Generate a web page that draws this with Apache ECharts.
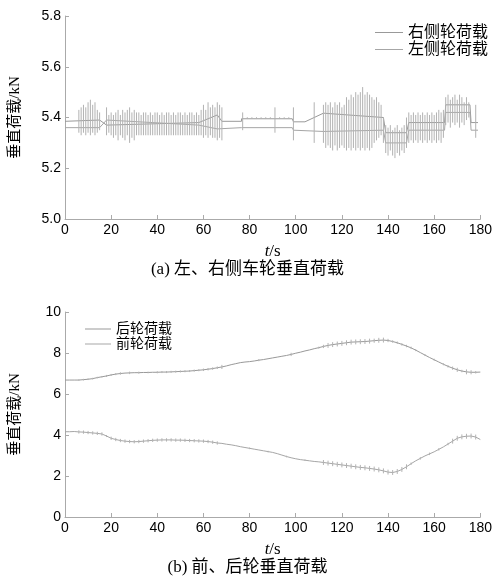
<!DOCTYPE html>
<html><head><meta charset="utf-8">
<script src="https://cdn.jsdelivr.net/npm/echarts@6/dist/echarts.min.js"></script>
<style>html,body{margin:0;padding:0;background:#fff}#c{width:495px;height:578px}</style>
</head><body><div id="c"></div>
<script>
// ---------- data ----------
const topSeriesNames = ['右侧轮荷载', '左侧轮荷载'];
const botSeriesNames = ['后轮荷载', '前轮荷载'];
const xTickLabels = [0, 20, 40, 60, 80, 100, 120, 140, 160, 180];
const topYTicks = [5.0, 5.2, 5.4, 5.6, 5.8];
const botYTicks = [0, 2, 4, 6, 8, 10];

// top chart: base lines [t, kN]
const rightBase = [[0,5.385],[15,5.39],[18,5.37],[58,5.38],[66,5.41],[68,5.385],[76.5,5.385],[76.5,5.395],[98.5,5.395],[99,5.383],[104,5.383],[112,5.417],[138,5.40],[139,5.34],[148,5.34],[149,5.38],[164.5,5.38],[165,5.45],[175.5,5.45],[176,5.38],[179,5.38]];
const leftBase = [[0,5.36],[15,5.36],[18,5.39],[58,5.37],[66,5.355],[76.5,5.36],[98.5,5.36],[99,5.35],[112,5.345],[138,5.35],[139,5.30],[148,5.30],[149,5.35],[164.5,5.35],[165,5.42],[175.5,5.42],[176,5.35],[179,5.35]];

// top chart: oscillation extremes, one entry per second (t = 0..180)
const topBarHi = [
null,null,null,null,null,null,
5.43,5.44,5.45,5.44,5.46,5.47,5.45,5.46,5.43,5.42,
null,null,
5.44,5.41,5.42,5.41,5.42,5.43,5.41,5.43,5.42,5.43,5.44,5.42,5.43,5.42,
5.42,5.41,5.42,5.42,5.41,5.42,5.41,5.42,5.42,5.41,5.42,5.41,5.42,5.42,5.41,5.42,5.41,5.42,5.42,5.41,5.42,5.41,5.42,5.42,5.41,5.42,5.41,
5.43,5.45,5.43,5.46,5.44,5.45,5.44,5.46,5.45,5.44,
null,null,null,null,null,null,null,null,
5.42,
null,5.401,null,5.401,null,5.401,null,5.401,null,5.401,null,5.401,null,
5.44,
null,5.401,null,5.401,null,5.401,null,
5.44,
null,null,null,null,null,null,null,null,
5.46,
null,null,null,
5.45,5.46,5.45,5.46,5.44,5.46,5.45,5.46,5.44,5.45,
5.48,5.47,5.49,5.48,5.50,5.49,5.50,5.52,5.49,5.50,5.49,5.48,5.47,5.48,5.46,5.45,
5.40,5.37,5.36,5.37,5.35,5.36,5.37,5.35,5.36,5.37,5.40,
5.42,5.41,5.42,5.41,5.42,5.41,5.42,5.41,5.42,5.41,5.42,5.41,5.42,5.43,5.42,5.43,
5.48,5.49,5.47,5.48,5.49,5.47,5.49,5.48,5.46,5.48,5.46,
null,null,
5.45,
null,null];
const topBarLo = [
null,null,null,null,null,null,
5.34,5.33,5.34,5.33,5.34,5.33,5.34,5.33,5.34,5.35,
null,null,
5.33,5.34,5.33,5.32,5.33,5.31,5.33,5.32,5.31,5.33,5.30,5.32,5.31,5.33,
5.33,5.33,5.33,5.33,5.33,5.33,5.33,5.33,5.33,5.33,5.33,5.33,5.33,5.33,5.33,5.33,5.33,5.33,5.33,5.33,5.33,5.33,5.33,5.33,5.33,5.33,5.33,
5.33,5.32,5.33,5.32,5.33,5.32,5.32,5.31,5.32,5.31,
null,null,null,null,null,null,null,null,
5.35,
null,5.394,null,5.394,null,5.394,null,5.394,null,5.394,null,5.394,null,
5.34,
null,5.394,null,5.394,null,5.394,null,
5.31,
null,null,null,null,null,null,null,null,
5.30,
null,null,null,
5.30,5.28,5.29,5.28,5.27,5.29,5.27,5.28,5.29,5.28,
5.27,5.28,5.27,5.28,5.27,5.28,5.27,5.28,5.27,5.28,5.27,5.28,5.30,5.31,5.32,5.33,
5.30,5.26,5.25,5.27,5.25,5.24,5.26,5.25,5.27,5.26,5.28,
5.30,5.31,5.30,5.31,5.30,5.31,5.30,5.31,5.30,5.31,5.30,5.31,5.30,5.31,5.30,5.32,
5.37,5.38,5.36,5.38,5.37,5.38,5.36,5.38,5.37,5.39,5.40,
null,null,
5.32,
null,null];

// bottom chart: one value every 2 s (t = 0..180)
const rearLoad = [
6.68,6.68,6.68,6.68,6.70,6.72,6.75,6.80,6.84,6.88,
6.93,6.97,7.00,7.02,7.03,7.04,7.04,7.05,7.05,7.06,
7.06,7.07,7.07,7.08,7.09,7.10,7.11,7.12,7.14,7.16,
7.18,7.21,7.24,7.28,7.32,7.37,7.43,7.48,7.53,7.56,
7.58,7.61,7.65,7.68,7.72,7.76,7.80,7.84,7.88,7.93,
7.99,8.04,8.10,8.15,8.21,8.26,8.32,8.37,8.41,8.44,
8.47,8.50,8.53,8.54,8.55,8.56,8.58,8.60,8.62,8.63,
8.61,8.56,8.50,8.42,8.34,8.25,8.14,8.02,7.90,7.78,
7.67,7.56,7.45,7.35,7.26,7.18,7.12,7.08,7.06,7.06,
7.07];
const frontLoad = [
4.16,4.16,4.17,4.15,4.14,4.12,4.10,4.08,4.05,3.95,
3.84,3.78,3.73,3.70,3.68,3.67,3.68,3.70,3.72,3.74,
3.75,3.76,3.76,3.76,3.75,3.75,3.74,3.73,3.72,3.71,
3.70,3.68,3.65,3.61,3.59,3.55,3.52,3.48,3.43,3.39,
3.35,3.31,3.27,3.23,3.19,3.15,3.09,3.02,2.95,2.89,
2.84,2.80,2.77,2.74,2.71,2.69,2.66,2.63,2.60,2.57,
2.54,2.51,2.48,2.45,2.42,2.40,2.37,2.34,2.30,2.25,
2.19,2.17,2.22,2.32,2.45,2.60,2.74,2.86,2.98,3.08,
3.18,3.30,3.42,3.56,3.70,3.84,3.91,3.94,3.95,3.90,
3.78];
// half-height of the small oscillation ticks on each curve (every 2 s)
const rearTick = [
0,0,0,0.04,0.04,0.04,0.04,0.04,0.04,0.05,
0.05,0.05,0.06,0,0.06,0,0.05,0,0.04,0,
0.05,0.05,0.05,0.05,0.05,0.05,0.05,0.05,0.05,0.05,
0.06,0.06,0.06,0.06,0.1,0,0,0,0,0,0,0,0.05,0,0,0,0,0,0,0.08,0,0,0,0,0,0.05,0.08,
0.12,0.12,0.12,0.12,0.12,0.12,0.12,0.12,0.12,0.12,
0.1,0.12,0.12,0.08,0.06,0.06,0.06,0.06,0.06,0.05,0,0.05,0,0.05,0,0.05,0.06,0.08,0.1,0.06,0.12,0.1,0.06,0];
const frontTick = [
0,0,0,
0.08,0.08,0.08,0.08,0.08,0.08,
0.05,
0.08,0.08,0.08,0.08,0.08,0.08,0.08,0.08,0.08,0.08,0.08,0.08,0.08,0.08,0.08,0.08,0.08,0.08,0.08,0.08,0.08,0.08,0.08,0.08,
0,0,0,0,0,0,0.04,0,0,0,0.04,0,0,0,0.04,0,0,0,0.04,0,0,0,
0.12,0.12,0.12,0.12,0.12,0.12,0.12,0.12,0.12,0.12,0.12,0.12,0.12,0.12,0.12,0.12,0.12,0.12,0.12,
0.06,0,0.06,0,0.06,0,0.06,0,0.06,
0.12,0.12,0.12,0.12,0.12,0.12,
0];
const topStep = 1, botStep = 2;

// ---------- build ----------
function spikePairs(hi, lo, step) {
  const d = [];
  hi.forEach((h, i) => { if (h != null) { d.push([i*step, h], [i*step, lo[i]], [i*step, null]); } });
  return d;
}
function tickPairs(base, amp, step) {
  const d = [];
  base.forEach((b, i) => { if (amp[i] > 0) { d.push([i*step, b + amp[i]], [i*step, b - amp[i]], [i*step, null]); } });
  return d;
}
const LINE = '#999999';
const LINE2 = '#a6a6a6';
const SPIKE = '#b2b2b2';
const font = 'Liberation Sans, Arial, sans-serif';
const cjk = 'Liberation Serif, Noto Sans CJK SC, serif';

function xAx(gi) {
  return {
    type: 'value', gridIndex: gi, min: 0, max: 180, interval: 20,
    name: '{i|t}/s', nameLocation: 'middle', nameGap: 24,
    nameTextStyle: { fontFamily: 'Liberation Serif', fontSize: 17, color: '#000',
      rich: { i: { fontFamily: 'Liberation Serif', fontStyle: 'italic', fontSize: 17, color: '#000' } } },
    axisLine: { lineStyle: { color: '#aaa', width: 1 } },
    axisTick: { inside: true, length: 4, lineStyle: { color: '#aaa' } },
    axisLabel: { color: '#000', fontSize: 14, fontFamily: font, margin: 4 },
    splitLine: { show: false }
  };
}
function yAx(gi, min, max, interval, fmt) {
  return {
    type: 'value', gridIndex: gi, min: min, max: max, interval: interval,
    name: '垂直荷载/kN', nameLocation: 'middle', nameGap: 42,
    nameTextStyle: { fontFamily: cjk, fontSize: 15, color: '#000' },
    axisLine: { show: true, lineStyle: { color: '#aaa', width: 1 } },
    axisTick: { show: true, inside: true, length: 4, lineStyle: { color: '#aaa' } },
    axisLabel: { color: '#000', fontSize: 14, fontFamily: font, margin: 4, formatter: fmt },
    splitLine: { show: false }
  };
}
function ln(name, data, xi, color, w) {
  return { type: 'line', name: name, data: data, xAxisIndex: xi, yAxisIndex: xi,
    showSymbol: false, symbol: 'none', color: color,
    lineStyle: { color: color, width: w || 1 }, connectNulls: false, animation: false, silent: true };
}

const chart = echarts.init(document.getElementById('c'), null, { renderer: 'canvas' });
chart.setOption({
  backgroundColor: '#fff',
  animation: false,
  title: [
    { text: '(a) 左、右侧车轮垂直荷载', left: 'center', top: 256,
      textStyle: { fontFamily: cjk, fontSize: 17, fontWeight: 'normal', color: '#000' } },
    { text: '(b) 前、后轮垂直荷载', left: 'center', top: 554,
      textStyle: { fontFamily: cjk, fontSize: 17, fontWeight: 'normal', color: '#000' } }
  ],
  legend: [
    { data: topSeriesNames, orient: 'vertical', left: 370, top: 19, itemWidth: 28, itemHeight: 1,
      icon: 'rect', itemGap: 0, selectedMode: false,
      textStyle: { fontFamily: cjk, fontSize: 16, lineHeight: 17, color: '#000' } },
    { data: botSeriesNames, orient: 'vertical', left: 80, top: 316, itemWidth: 26, itemHeight: 1,
      icon: 'rect', itemGap: -1, selectedMode: false,
      textStyle: { fontFamily: cjk, fontSize: 14, lineHeight: 16, color: '#000' } }
  ],
  grid: [
    { left: 62, top: 16, width: 419, height: 203, containLabel: false },
    { left: 63, top: 312, width: 419, height: 205, containLabel: false }
  ],
  xAxis: [xAx(0), xAx(1)],
  yAxis: [
    yAx(0, topYTicks[0], topYTicks[topYTicks.length-1], 0.2, v => v.toFixed(1)),
    yAx(1, botYTicks[0], botYTicks[botYTicks.length-1], 2, v => String(v))
  ],
  series: [
    ln(topSeriesNames[0], rightBase, 0, LINE),
    ln(topSeriesNames[1], leftBase, 0, LINE2),
    ln(topSeriesNames[0], spikePairs(topBarHi, topBarLo, topStep), 0, SPIKE),
    ln(botSeriesNames[0], rearLoad.map((v, i) => [i*botStep, v]), 1, LINE),
    ln(botSeriesNames[1], frontLoad.map((v, i) => [i*botStep, v]), 1, LINE2),
    ln(botSeriesNames[0], tickPairs(rearLoad, rearTick, botStep), 1, SPIKE),
    ln(botSeriesNames[1], tickPairs(frontLoad, frontTick, botStep), 1, SPIKE)
  ]
});
</script></body></html>
